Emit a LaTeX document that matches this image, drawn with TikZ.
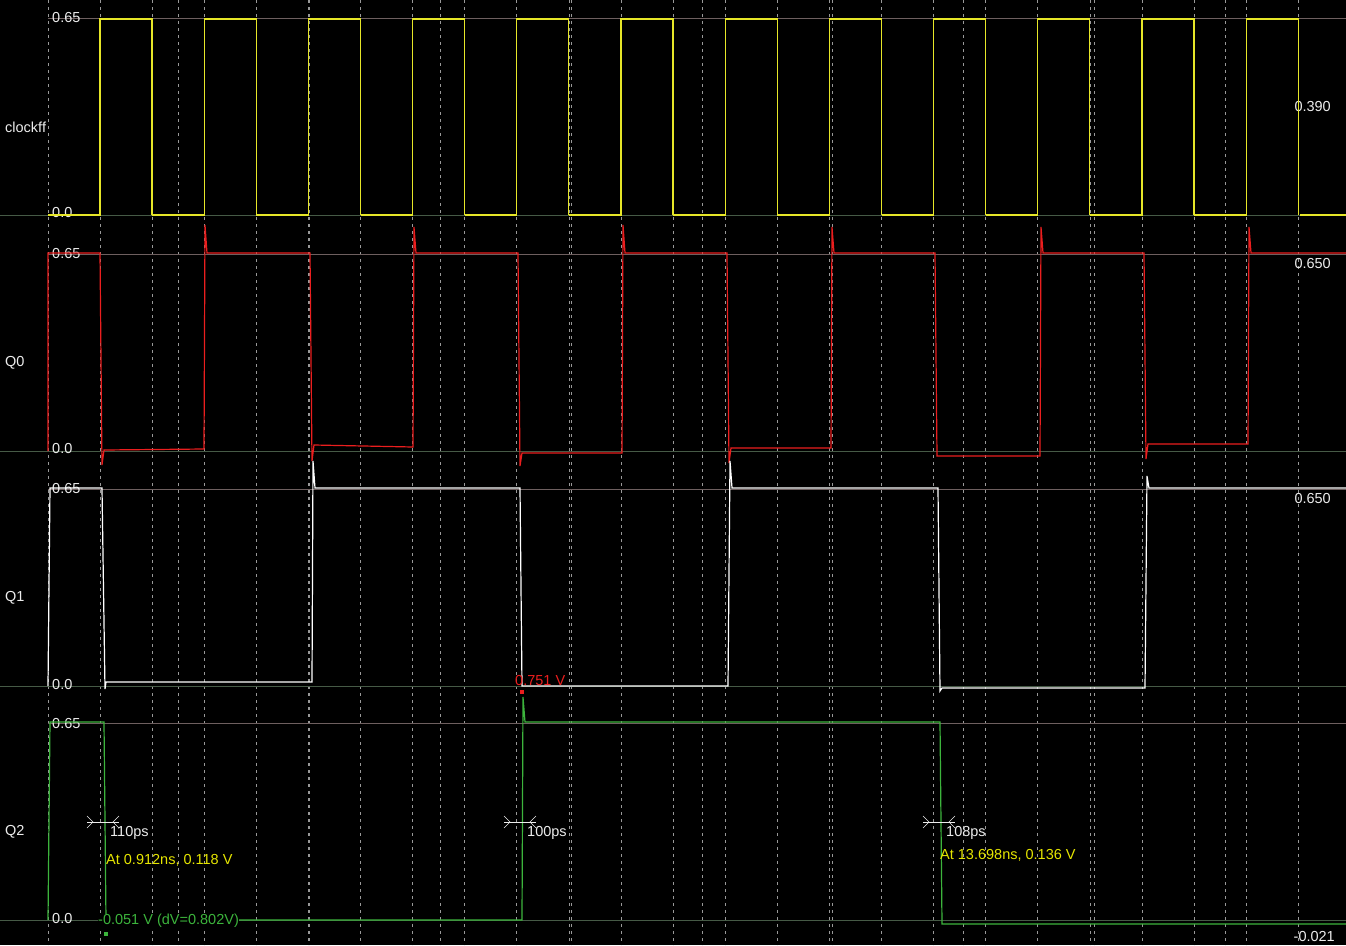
\documentclass[tikz,border=0pt]{standalone}
\usepackage{fontspec}
\setmainfont{Liberation Sans}
\definecolor{clk}{RGB}{230,230,40}
\definecolor{qzero}{RGB}{235,30,30}
\definecolor{qtwo}{RGB}{60,180,60}
\definecolor{hiline}{RGB}{110,95,95}
\definecolor{loline}{RGB}{70,90,70}
\definecolor{meas}{RGB}{230,230,0}
\tikzset{
  grid line/.style={gray!80, dash pattern=on 3pt off 4pt, line width=0.7pt},
  lbl/.style={text=white!85!gray, font=\fontsize{14.5}{14.5}\selectfont, inner sep=0pt},
  wave/.style={line width=1.2pt}
}
\begin{document}
\begin{tikzpicture}[x=1pt,y=-1pt]
        \fill[black] (0,0) rectangle (1346,945);
        \useasboundingbox (0,0) rectangle (1346,945);
        % Grid
        \foreach \k in {0,...,9}
            \draw[grid line] (48+130.8*\k,0) -- (48+130.8*\k,945);
        \foreach \k in {0,...,23}
            \draw[grid line] (100+52.1*\k,0) -- (100+52.1*\k,945);
        % Level lines and axis labels
        \foreach \base/\name [count=\i] in {215/clockff,451/Q0,686/Q1,920/Q2} {
            \draw[loline] (0,\base) -- (1346,\base);
            \draw[hiline] (48,\base-197) -- (1346,\base-197);
            \node[lbl, anchor=west] (lo\i) at (52,\base-2) {0.0};
            \node[lbl, anchor=west] (hi\i) at (52,\base-197) {0.65};
            \node[lbl, anchor=west] (name\i) at (5,\base-88) {\name};
        }
        \node[lbl, anchor=east] (val1) at (1331,107) {0.390};
        \node[lbl, anchor=east] (val2) at (1331,264) {0.650};
        \node[lbl, anchor=east] (val3) at (1331,499) {0.650};
        \node[lbl, anchor=east] (val4) at (1335,936) {-0.021};
        % clockff
        \foreach \k in {0,...,11} {
            \pgfmathsetmacro{\r}{100+104.2*\k}
            \draw[clk, wave] (\r-52,215) -- (\r,215) -- (\r,19) -- (\r+52,19) -- (\r+52,215);
        }
        \draw[clk, wave] (1300,215) -- (1346,215);
        % Q0
        \draw[qzero, wave] (48,451) -- (48,253) -- (100,253) -- (102,465) -- (104,450) -- (204,449) -- (205,225) -- (207,253)
            -- (310,253) -- (312,461) -- (314,445) -- (413,447) -- (414,227) -- (416,253)
            -- (518,253) -- (520,466) -- (522,453) -- (622,453) -- (623,225) -- (625,253)
            -- (727,253) -- (729,463) -- (731,448) -- (831,448) -- (832,227) -- (834,253)
            -- (935,253) -- (937,456) -- (1040,456) -- (1041,227) -- (1043,253)
            -- (1144,253) -- (1146,459) -- (1148,444) -- (1248,444) -- (1249,227) -- (1251,253) -- (1346,253);
        % Q1
        \draw[white, wave] (48,686) -- (50,488) -- (102,488) -- (105,689) -- (106,682) -- (312,682) -- (313,461) -- (315,488)
            -- (520,488) -- (522,686) -- (728,686) -- (730,461) -- (732,488)
            -- (938,488) -- (940,691) -- (942,688) -- (1145,688) -- (1147,476) -- (1149,488) -- (1346,488);
        % Q2
        \draw[qtwo, wave] (48,920) -- (50,722) -- (104,722) -- (106,920) -- (522,920) -- (523,697) -- (525,722)
            -- (940,722) -- (942,924) -- (1346,924);
        % Measurements
        \foreach \mx/\txt [count=\j] in {103/110ps,520/100ps,939/108ps} {
            \draw[white!85!gray] (\mx-16,822) -- (\mx+16,822);
            \draw[white!85!gray] (\mx-16,816) -- (\mx-10,822) -- (\mx-16,828);
            \draw[white!85!gray] (\mx+16,816) -- (\mx+10,822) -- (\mx+16,828);
            \node[lbl, anchor=west] (m\j) at (\mx+7,833) {\txt};
        }
        \node[lbl, text=meas, anchor=west] (at1) at (106,860) {At 0.912ns, 0.118 V};
        \node[lbl, text=meas, anchor=west] (at2) at (940,855) {At 13.698ns, 0.136 V};
        \node[lbl, text=qtwo, anchor=west, fill=black] (dv) at (98,921) {-0.051 V (dV=0.802V)};
        \node[lbl, text=qzero, anchor=west] (pk) at (515,680) {0.751 V};
        \fill[qzero] (520,690) rectangle (524,694);
        \fill[qtwo] (104,932) rectangle (108,936);
\end{tikzpicture}
\end{document}
